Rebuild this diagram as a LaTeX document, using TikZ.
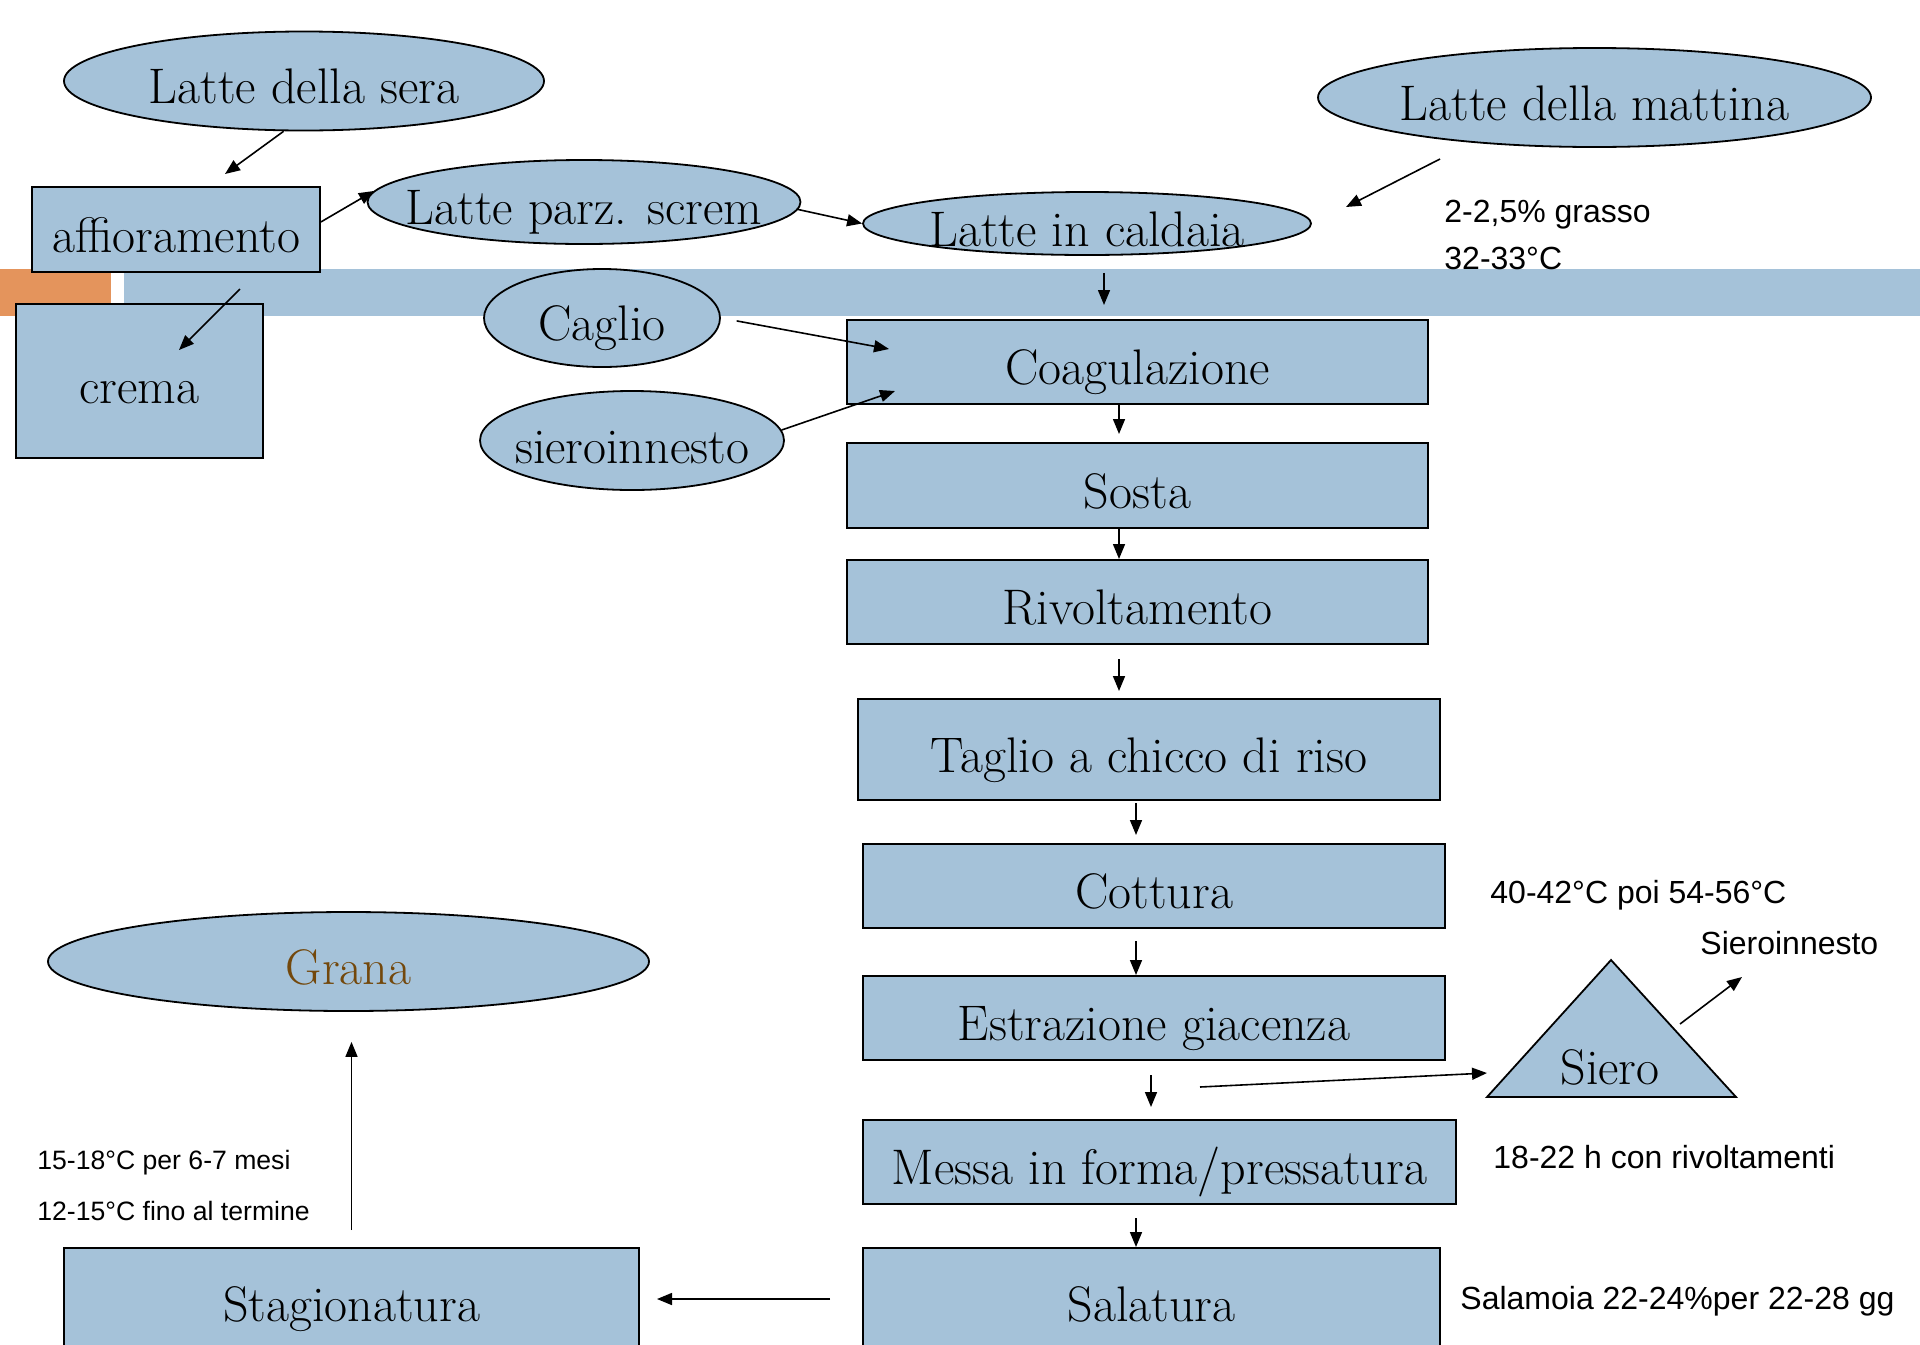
\documentclass[tikz,border=0pt]{standalone}
\usepackage{fontspec}
\usetikzlibrary{shapes.geometric,arrows.meta}
\newfontfamily\notefont{Liberation Sans}
\definecolor{gr_blue}{RGB}{165,194,217}
\definecolor{gr_orange}{RGB}{228,148,92}
\definecolor{gr_brown}{RGB}{115,72,12}
\tikzstyle{bx}=[rectangle,fill=gr_blue,draw=black,line width=1pt,
  inner sep=2pt,font=\fontsize{25}{29}\selectfont,text height=22.5pt,text depth=0pt]
\tikzstyle{el}=[ellipse,fill=gr_blue,draw=black,line width=0.9pt,inner sep=0pt]
\tikzstyle{tx}=[font=\fontsize{25}{29}\selectfont,text height=22.5pt,text depth=0pt]
\tikzstyle{nt}=[anchor=west,inner sep=0pt,font=\notefont\fontsize{16}{19}\selectfont]
\tikzstyle{ntsmall}=[anchor=west,inner sep=0pt,font=\notefont\fontsize{13.3}{16}\selectfont]
\tikzstyle{ar}=[-{Triangle[length=7.5pt,width=6pt]},line width=0.8pt]

\begin{document}
\begin{tikzpicture}[x=0.5pt,y=-0.5pt]
    \useasboundingbox (0,0) rectangle (1920,1344);
    \clip (0,0) rectangle (1920,1344);
    % bar
    \fill[gr_orange] (0,269) rectangle (111,316);
    \fill[gr_blue] (124,269) rectangle (1920,316);

    \node [el,minimum width=240pt,minimum height=49.5pt,label={[tx]center:Latte della sera}] (sera) at (304,81) {};
    \node [el,minimum width=276.5pt,minimum height=49.5pt,label={[tx]center:Latte della mattina}] (mattina) at (1594.5,97.5) {};
    \node [el,minimum width=216.5pt,minimum height=42pt,label={[tx]center:Latte parz. screm}] (parz) at (584,202) {};
    \node [el,minimum width=224pt,minimum height=31.5pt,label={[tx]center:Latte in caldaia}] (caldaia) at (1087,223.5) {};
    \node [el,minimum width=118pt,minimum height=49pt,label={[tx]center:Caglio}] (caglio) at (602,318) {};
    \node [el,minimum width=152pt,minimum height=49.5pt,label={[tx]center:sieroinnesto}] (sinn) at (632,440.5) {};
    \node [el,minimum width=300.5pt,minimum height=49.5pt,label={[tx,text=gr_brown]center:Grana}] (grana) at (348.5,961.5) {};

    \node [bx,minimum width=144pt,minimum height=42.5pt] (affio) at (176,229.5) {affioramento};
    \node [bx,minimum width=123.5pt,minimum height=77pt] (crema) at (139.5,381) {crema};
    \node [bx,minimum width=290.5pt,minimum height=42pt] (coag) at (1137.5,362) {Coagulazione};
    \node [bx,minimum width=290.5pt,minimum height=42.5pt] (sosta) at (1137.5,485.5) {Sosta};
    \node [bx,minimum width=290.5pt,minimum height=42pt] (rivolt) at (1137.5,602) {Rivoltamento};
    \node [bx,minimum width=291pt,minimum height=50.5pt] (taglio) at (1149,749.5) {Taglio a chicco di riso};
    \node [bx,minimum width=291pt,minimum height=42pt] (cottura) at (1154,886) {Cottura};
    \node [bx,minimum width=291pt,minimum height=42pt] (estraz) at (1154,1018) {Estrazione giacenza};
    \node [bx,minimum width=296.5pt,minimum height=42pt] (messa) at (1159.5,1162) {Messa in forma/pressatura};
    \node [bx,minimum width=288.5pt,minimum height=51pt] (salat) at (1151.5,1299) {Salatura};
    \node [bx,minimum width=287.5pt,minimum height=51pt] (stag) at (351.5,1299) {Stagionatura};

    % siero
    \coordinate (tA) at (1611,960);
    \coordinate (tL) at (1487,1097);
    \coordinate (tR) at (1736,1097);
    \filldraw[fill=gr_blue,draw=black,line width=0.9pt] (tA) -- (tL) -- (tR) -- cycle;
    \node [tx] (siero) at (1610,1062) {Siero};

    \coordinate (a1) at (225,174);
    \coordinate (d0) at (1440,159);
    \coordinate (d1) at (1346,207);
    \coordinate (e0) at (240,289);
    \coordinate (e1) at (179,350);
    \coordinate (g1) at (889,349);
    \coordinate (h1) at (895,391);
    \coordinate (o0) at (1200,1087);
    \coordinate (o1) at (1487,1073);
    \coordinate (s0) at (1680,1024);
    \coordinate (s1) at (1742,977);

    \draw [ar] (sera.248) to (a1);
    \draw [ar] (affio.3) to (parz.177);
    \draw [ar] (parz.-2) to (caldaia.west);
    \draw [ar] (d0) to (d1);
    \draw [ar] (e0) to (e1);
    \draw [ar,shorten <=8.5pt,shorten >=7pt] ([xshift=8.5pt]caldaia.south) to ([xshift=-16.75pt]coag.north);
    \draw [ar,shorten <=8pt] (caglio.east) to (g1);
    \draw [ar] (sinn.4) to (h1);
    \draw [ar,shorten >=4pt] ([xshift=-9.25pt]coag.south) to ([xshift=-9.25pt]sosta.north);
    \draw [ar] ([xshift=-9.25pt]sosta.south) to ([xshift=-9.25pt]rivolt.north);
    \draw [ar,shorten <=7pt,shorten >=3.5pt] ([xshift=-9.25pt]rivolt.south) to ([xshift=-15pt]taglio.north);
    \draw [ar,shorten <=1pt,shorten >=4pt] ([xshift=-6.5pt]taglio.south) to ([xshift=-9pt]cottura.north);
    \draw [ar,shorten <=6pt] ([xshift=-9pt]cottura.south) to ([xshift=-9pt]estraz.north);
    \draw [ar,shorten <=7pt,shorten >=6pt] ([xshift=-1.5pt]estraz.south) to ([xshift=-4.25pt]messa.north);
    \draw [ar,shorten <=6.5pt] ([xshift=-11.75pt]messa.south) to ([xshift=-7.75pt]salat.north);
    \draw [ar] (o0) to (o1);
    \draw [ar] (s0) to (s1);
    \draw [ar,shorten <=16pt,shorten >=8.5pt] (salat.west) to (salat.west -| stag.east);
    \draw [ar,shorten <=8.5pt,shorten >=15pt] (stag.north) to (stag.north |- grana.south);

    \node [nt] (grasso) at (1444,215) {2-2,5\% grasso};
    \node [nt] (temp) at (1444,258) {32-33°C};
    \node [nt] (cott) at (1490,895) {40-42°C poi 54-56°C};
    \node [nt] (sinnt) at (1700,943) {Sieroinnesto};
    \node [nt] (rivt) at (1493,1157) {18-22 h con rivoltamenti};
    \node [nt] (salt) at (1460,1301) {Salamoia 22-24\%per 22-28 gg};
    \node [ntsmall] (stag1) at (37,1163) {15-18°C per 6-7 mesi};
    \node [ntsmall] (stag2) at (37,1211) {12-15°C fino al termine};
  \end{tikzpicture}
\end{document}
